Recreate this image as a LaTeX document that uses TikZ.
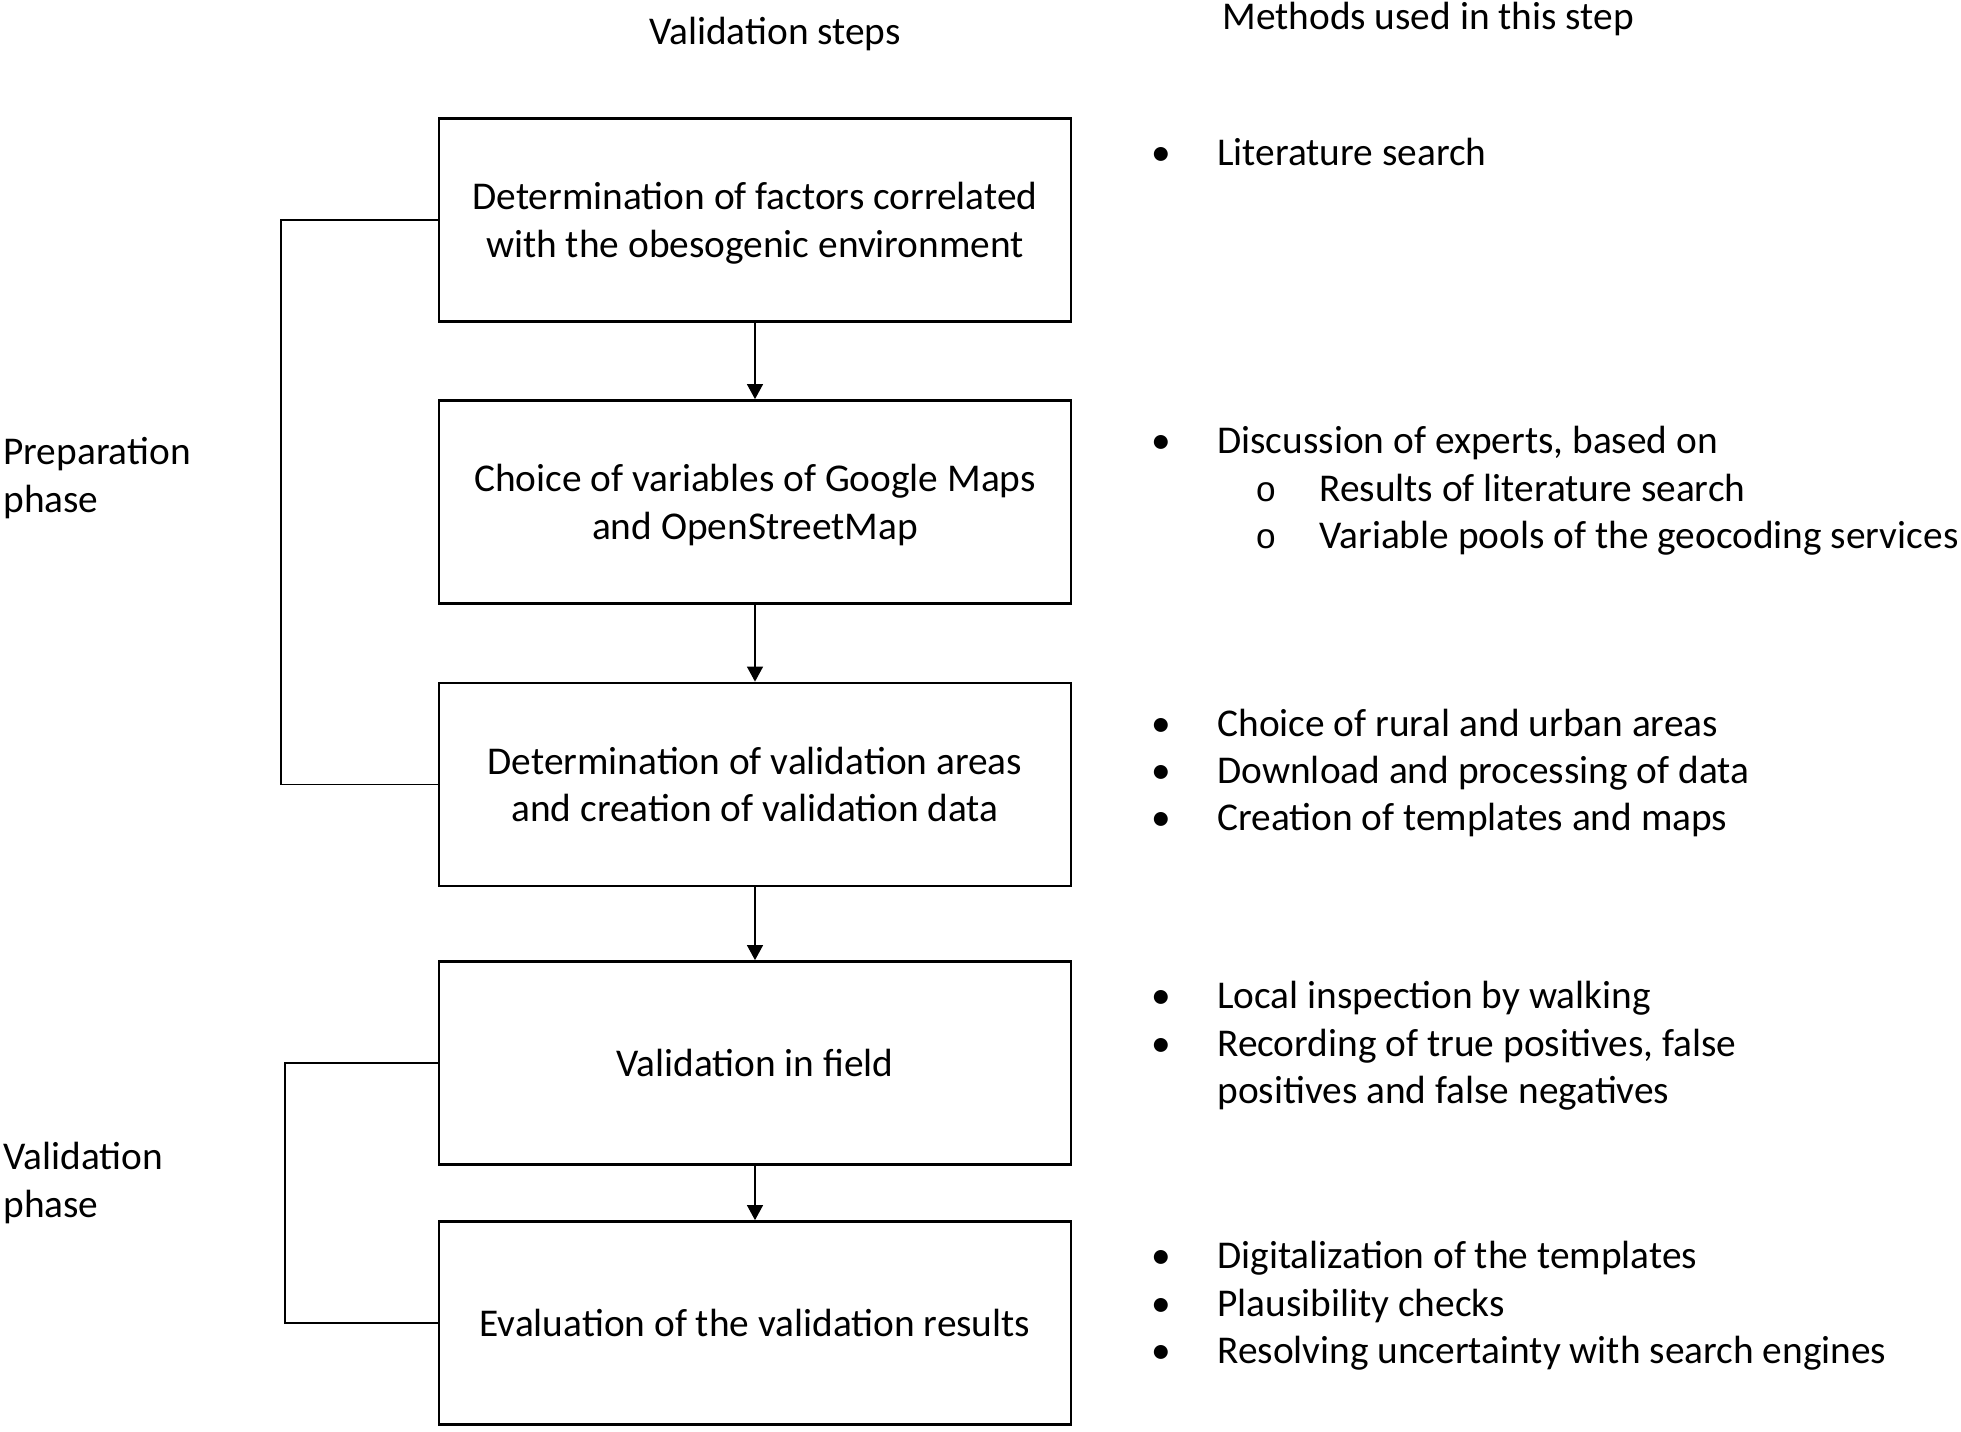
\documentclass[tikz,border=0pt]{standalone}
\usepackage{fontspec}
\setmainfont{Carlito}
\newfontfamily\monofnt{Liberation Mono}
\usetikzlibrary{arrows.meta}
\begin{document}
\begin{tikzpicture}[x=0.02cm,y=-0.02cm]

\tikzstyle{stepbox}=[rectangle, draw=black, line width=1.6pt, minimum width=12.64cm, minimum height=4.06cm, align=center, text depth=0pt, font=\fontsize{22.4}{27}\selectfont]
\tikzstyle{txt}=[inner sep=0pt, font=\fontsize{22.4}{27}\selectfont]
\tikzstyle{item}=[txt, anchor=base west]
\tikzstyle{dot}=[txt, anchor=base]

\tikzstyle{connect}=[-{Triangle[length=0.3cm,width=0.32cm]}, line width=0.7pt]
\tikzstyle{brace}=[line width=0.6pt]

\useasboundingbox (0,0) rectangle (1961,1431);

\node[txt, anchor=base] (head1) at (775,44) {Validation steps};
\node[item] (head2) at (1222,29) {Methods used in this step};

\node[stepbox] (factors) at (755,220) {Determination of factors correlated\\with the obesogenic environment};
\node[stepbox] (vars) at (755,502) {Choice of variables of Google Maps\\and OpenStreetMap};
\node[stepbox] (areas) at (755,784.5) {Determination of validation areas\\and creation of validation data};
\node[stepbox] (field) at (755,1063) {Validation in field};
\node[stepbox] (eval) at (755,1323) {Evaluation of the validation results};

\node[txt, anchor=west, align=left, text depth=0pt] (prep) at (3,475) {Preparation\\phase};
\node[txt, anchor=west, align=left, text depth=0pt] (valid) at (3,1180) {Validation\\phase};

% methods
\node[dot] (b1) at (1161,165) {•};
\node[item] (lit) at (1217,165) {Literature search};

\node[dot] (b2) at (1161,453) {•};
\node[item] (disc) at (1217,453) {Discussion of experts, based on};
\node[dot, font=\fontsize{20}{24}\monofnt] (o1) at (1266,501) {o};
\node[item] (res) at (1319,501) {Results of literature search};
\node[dot, font=\fontsize{20}{24}\monofnt] (o2) at (1266,548) {o};
\node[item] (pools) at (1319,548) {Variable pools of the geocoding services};

\node[dot] (b3) at (1161,736) {•};
\node[item] (rural) at (1217,736) {Choice of rural and urban areas};
\node[dot] (b4) at (1161,783) {•};
\node[item] (down) at (1217,783) {Download and processing of data};
\node[dot] (b5) at (1161,830) {•};
\node[item] (templ) at (1217,830) {Creation of templates and maps};

\node[dot] (b6) at (1161,1008) {•};
\node[item] (walk) at (1217,1008) {Local inspection by walking};
\node[dot] (b7) at (1161,1056) {•};
\node[item] (rec) at (1217,1056) {Recording of true positives, false};
\node[item] (neg) at (1217,1103) {positives and false negatives};

\node[dot] (b8) at (1161,1268) {•};
\node[item] (digit) at (1217,1268) {Digitalization of the templates};
\node[dot] (b9) at (1161,1316) {•};
\node[item] (plaus) at (1217,1316) {Plausibility checks};
\node[dot] (b10) at (1161,1363) {•};
\node[item] (engines) at (1217,1363) {Resolving uncertainty with search engines};

\path (factors) [connect] edge (vars);
\path (vars) [connect] edge (areas);
\path (areas) [connect] edge (field);
\path (field) [connect] edge (eval);

\coordinate (prepx) at (281,0);
\coordinate (validx) at (285,0);
\draw[brace] (factors.west) -- (factors.west -| prepx) -- (areas.west -| prepx) -- (areas.west);
\draw[brace] (field.west) -- (field.west -| validx) -- (eval.west -| validx) -- (eval.west);

\end{tikzpicture}
\end{document}
